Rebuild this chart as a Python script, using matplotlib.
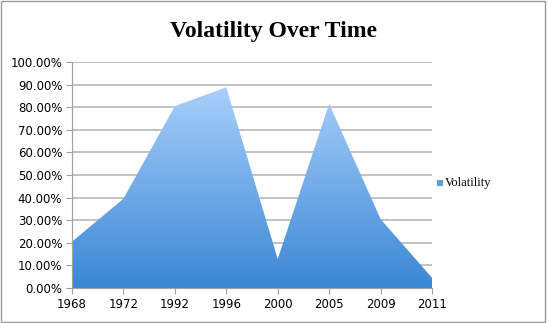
import numpy as np
import matplotlib.pyplot as plt
from matplotlib.colors import LinearSegmentedColormap
from matplotlib.patches import Polygon, Rectangle
from matplotlib.ticker import PercentFormatter

years = ['1968', '1972', '1992', '1996', '2000', '2005', '2009', '2011']
volatility = [0.205, 0.395, 0.805, 0.888, 0.128, 0.815, 0.305, 0.045]
y_ticks = np.arange(0, 1.01, 0.1)

fig = plt.figure(figsize=(5.48, 3.23), dpi=100)
ax = fig.add_axes([72 / 548, 35 / 323, 360 / 548, 226 / 323])

x = np.arange(len(years))
ax.set_xlim(0, len(years) - 1)
ax.set_ylim(0, 1)

# area with a vertical blue gradient, clipped to the series outline
verts = [(0, 0)] + list(zip(x, volatility)) + [(x[-1], 0)]
area = Polygon(verts, closed=True, facecolor='none', edgecolor='none')
ax.add_patch(area)
cmap = LinearSegmentedColormap.from_list('vol', ['#3b87d4', '#a9cffc'])
grad = np.linspace(0, 1, 256).reshape(-1, 1)
img = ax.imshow(grad, cmap=cmap, origin='lower', aspect='auto',
                extent=[0, x[-1], 0, max(volatility)], zorder=2)
img.set_clip_path(area)

ax.set_yticks(y_ticks)
ax.yaxis.set_major_formatter(PercentFormatter(1.0, decimals=2))
ax.set_xticks(x)
ax.set_xticklabels(years)
ax.grid(axis='y', color='#b8b8b8', linewidth=1.2, zorder=1)
ax.set_axisbelow(True)

for side in ['top', 'right']:
    ax.spines[side].set_visible(False)
for side in ['left', 'bottom']:
    ax.spines[side].set_color('#a0a0a0')
ax.spines['bottom'].set_zorder(3)
ax.tick_params(axis='both', colors='#a0a0a0', labelcolor='black',
               labelsize=8.5, length=4, direction='out', pad=3)

fig.text(0.5, 1 - 32 / 323, 'Volatility Over Time', ha='center', va='center',
         fontsize=17, fontweight='bold', family='Liberation Serif')

# legend entry on the right
fig.patches.append(Rectangle((437 / 548, 1 - 186 / 323), 6 / 548, 6 / 323,
                             transform=fig.transFigure, facecolor='#5a9ee3',
                             edgecolor='none'))
fig.text(445 / 548, 1 - 183 / 323, 'Volatility', ha='left', va='center',
         fontsize=9, family='Liberation Serif')

# outer frame
fig.patches.append(Rectangle((0.002, 0.003), 0.993, 0.994,
                             transform=fig.transFigure, facecolor='none',
                             edgecolor='#9a9a9a', linewidth=1))

fig.savefig('out.png', dpi=100)
